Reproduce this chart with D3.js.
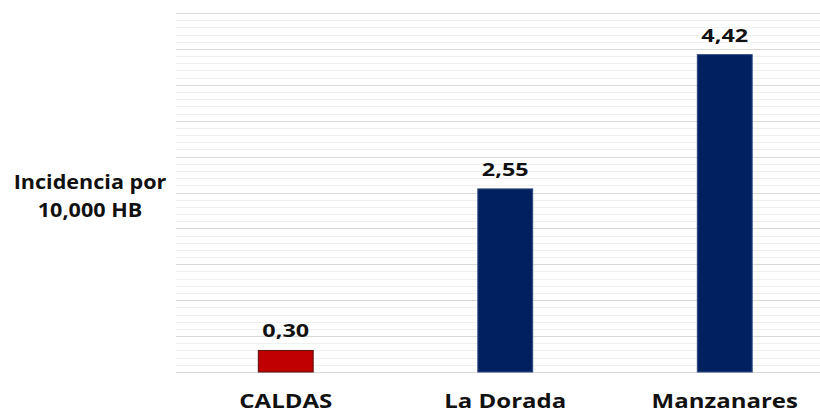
<!DOCTYPE html>
<html>
<head>
    <meta charset="utf-8">
    <script src="https://cdn.jsdelivr.net/npm/d3@7"></script>
    <style>
        body {
            margin: 0;
            background: #fff;
            font-family: "Open Sans", "Liberation Sans", sans-serif;
        }
        .grid line { shape-rendering: crispEdges; }
        .grid .minor { stroke: #f0f0f0; stroke-width: 1.5px; }
        .grid .major { stroke: #d9d9d9; stroke-width: 1.5px; }
        .value { font-size: 18px; font-weight: bold; fill: #111; }
        .cat { font-size: 20px; font-weight: bold; fill: #111; }
        .ytitle { font-size: 20px; font-weight: bold; fill: #111; }
    </style>
</head>
<body>
<svg id="chart" width="820" height="414"></svg>
<script>
    var categories = ["CALDAS", "La Dorada", "Manzanares"];
    var values = [0.30, 2.55, 4.42];
    var labels = ["0,30", "2,55", "4,42"];
    var colors = ["#c00000", "#002060", "#002060"];
    var yTitle = ["Incidencia por", "10,000 HB"];

    var margin = {top: 13, right: 0, bottom: 42, left: 176},
        plotRight = 834.5,
        height = 414 - margin.top - margin.bottom;

    var svg = d3.select("#chart");

    var x = d3.scaleBand()
        .domain(categories)
        .range([margin.left, plotRight])
        .paddingInner(0.75)
        .paddingOuter(0.375);

    var y = d3.scaleLinear()
        .domain([0, 5])
        .range([margin.top + height, margin.top]);

    // the source text is drawn a bit stretched sideways
    function place(px, py, sx) {
        return "translate(" + px + "," + py + ") scale(" + sx + ",1)";
    }

    // minor + major gridlines
    var ticks = d3.range(0, 51).map(function (i) { return i / 10; });
    svg.append("g").attr("class", "grid")
        .selectAll("line")
        .data(ticks)
        .enter().append("line")
        .attr("class", function (d, i) { return i % 5 === 0 ? "major" : "minor"; })
        .attr("x1", margin.left)
        .attr("x2", 820)
        .attr("y1", function (d) { return Math.round(y(d)) + 0.5; })
        .attr("y2", function (d) { return Math.round(y(d)) + 0.5; });

    svg.append("g")
        .selectAll("rect")
        .data(values)
        .enter().append("rect")
        .attr("x", function (d, i) { return x(categories[i]); })
        .attr("width", x.bandwidth())
        .attr("y", function (d) { return y(d); })
        .attr("height", function (d) { return y(0) - y(d); })
        .attr("fill", function (d, i) { return colors[i]; })
        .attr("stroke", function (d, i) { return i === 0 ? "#5a1010" : "#2f4a80"; })
        .attr("stroke-width", 1);

    svg.append("g")
        .selectAll("text")
        .data(values)
        .enter().append("text")
        .attr("class", "value")
        .attr("text-anchor", "middle")
        .attr("transform", function (d, i) {
            return place(x(categories[i]) + x.bandwidth() / 2, y(d) - 13, 1.3);
        })
        .text(function (d, i) { return labels[i]; });

    svg.append("g")
        .selectAll("text")
        .data(categories)
        .enter().append("text")
        .attr("class", "cat")
        .attr("text-anchor", "middle")
        .attr("transform", function (d) { return place(x(d) + x.bandwidth() / 2, 408, 1.2); })
        .text(function (d) { return d; });

    svg.append("g")
        .selectAll("text")
        .data(yTitle)
        .enter().append("text")
        .attr("class", "ytitle")
        .attr("text-anchor", "middle")
        .attr("transform", function (d, i) { return place(90, 189 + i * 28, 1.08); })
        .text(function (d) { return d; });
</script>
</body>
</html>
